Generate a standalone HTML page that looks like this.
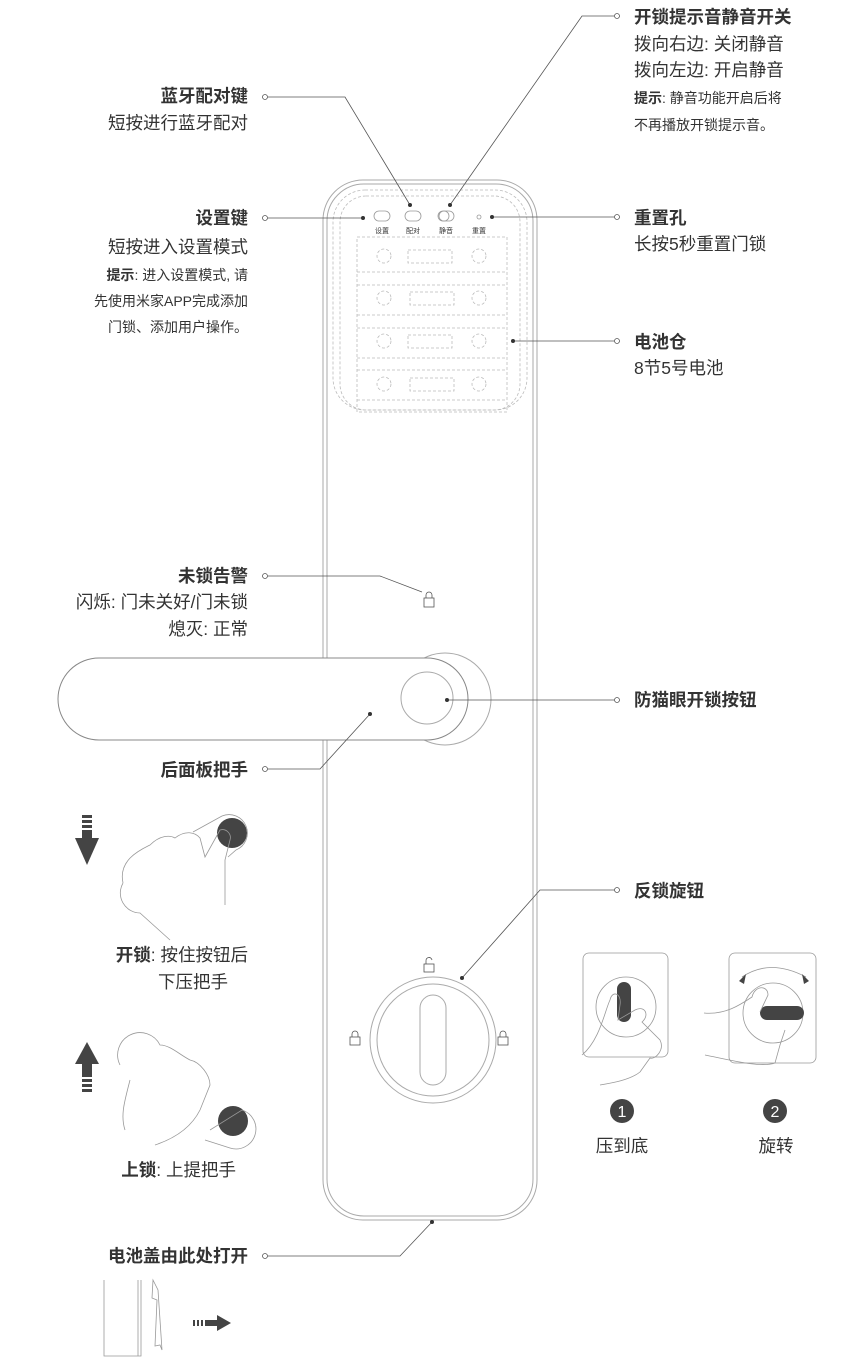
<!DOCTYPE html>
<html><head><meta charset="utf-8"><style>
html,body{margin:0;padding:0;background:#fff;}
svg{display:block;}
text{font-family:"Liberation Sans","Noto Sans CJK SC",sans-serif;fill:#333;}
.b{font-weight:bold;font-size:17.5px;}
.n{font-size:17.5px;}
.s{font-size:14px;}
.l{fill:none;stroke:#555;stroke-width:0.8;}
.g{fill:none;stroke:#aaa;stroke-width:1;}
.d{fill:none;stroke:#bbb;stroke-width:0.8;stroke-dasharray:3 2;}
.h{fill:none;stroke:#999;stroke-width:0.8;}
</style></head><body>
<svg width="863" height="1362" viewBox="0 0 863 1362">
<!-- lock body -->
<rect x="323" y="180" width="214" height="1040" rx="40" class="g"/>
<rect x="327" y="184" width="206" height="1032" rx="37" class="g"/>
<rect x="333" y="190" width="194" height="220" rx="32" class="d"/>
<rect x="340" y="196" width="180" height="214" rx="26" class="d"/>
<!-- buttons -->
<rect x="374" y="211" width="16" height="10" rx="5" class="h"/>
<rect x="405" y="211" width="16" height="10" rx="5" class="h"/>
<rect x="438" y="211" width="16" height="10" rx="5" class="h"/>
<circle cx="444" cy="216" r="5" class="h"/>
<circle cx="479" cy="217" r="2" class="h"/>
<text x="382" y="233" font-size="7" text-anchor="middle">设置</text>
<text x="413" y="233" font-size="7" text-anchor="middle">配对</text>
<text x="446" y="233" font-size="7" text-anchor="middle">静音</text>
<text x="479" y="233" font-size="7" text-anchor="middle">重置</text>
<!-- battery compartment -->
<rect x="357" y="237" width="150" height="175" class="d"/>
<line x1="357" y1="272" x2="507" y2="272" class="d"/>
<line x1="357" y1="285" x2="507" y2="285" class="d"/>
<line x1="357" y1="315" x2="507" y2="315" class="d"/>
<line x1="357" y1="328" x2="507" y2="328" class="d"/>
<line x1="357" y1="358" x2="507" y2="358" class="d"/>
<line x1="357" y1="370" x2="507" y2="370" class="d"/>
<line x1="357" y1="400" x2="507" y2="400" class="d"/>
<g class="d">
<circle cx="384" cy="256" r="7"/><rect x="408" y="250" width="44" height="13"/><circle cx="479" cy="256" r="7"/>
<circle cx="384" cy="298" r="7"/><rect x="410" y="292" width="44" height="13"/><circle cx="479" cy="298" r="7"/>
<circle cx="384" cy="341" r="7"/><rect x="408" y="335" width="44" height="13"/><circle cx="479" cy="341" r="7"/>
<circle cx="384" cy="384" r="7"/><rect x="410" y="378" width="44" height="13"/><circle cx="479" cy="384" r="7"/>
</g>
<!-- alarm lock icon -->
<g class="l" stroke-width="1.2"><rect x="424" y="598" width="10" height="9"/><path d="M426 598v-3a3 3 0 0 1 6 0v3"/></g>
<!-- handle -->
<circle cx="445" cy="699" r="46" class="g"/>
<rect x="58" y="658" width="410" height="82" rx="41" fill="#fff" stroke="#888" stroke-width="1"/>
<circle cx="427" cy="698" r="26" class="g"/>
<!-- knob -->
<circle cx="433" cy="1040" r="63" class="g"/>
<circle cx="433" cy="1040" r="56" class="g"/>
<rect x="420" y="995" width="26" height="90" rx="13" class="g"/>
<g class="l" stroke-width="1.2">
<rect x="424" y="964" width="10" height="8"/><path d="M426 964v-3a3 3 0 0 1 6 -1"/>
<rect x="350" y="1037" width="10" height="8"/><path d="M352 1037v-3a3 3 0 0 1 6 0v3"/>
<rect x="498" y="1037" width="10" height="8"/><path d="M500 1037v-3a3 3 0 0 1 6 0v3"/>
</g>
<!-- connectors -->
<g class="l">
<path d="M268 97H345L410 205"/><path d="M614 16H582L450 205"/>
<path d="M268 218H363"/><path d="M614 217H492"/><path d="M614 341H513"/>
<path d="M268 576H380L422 592"/><path d="M614 700H447"/>
<path d="M268 769H320L370 714"/><path d="M614 890H540L462 978"/>
<path d="M268 1256H400L432 1222"/>
</g>
<g fill="#fff" stroke="#555" stroke-width="0.8">
<circle cx="265" cy="97" r="2.5"/><circle cx="617" cy="16" r="2.5"/><circle cx="265" cy="218" r="2.5"/>
<circle cx="617" cy="217" r="2.5"/><circle cx="617" cy="341" r="2.5"/><circle cx="265" cy="576" r="2.5"/>
<circle cx="617" cy="700" r="2.5"/><circle cx="265" cy="769" r="2.5"/><circle cx="617" cy="890" r="2.5"/>
<circle cx="265" cy="1256" r="2.5"/>
</g>
<g fill="#333">
<circle cx="410" cy="205" r="2"/><circle cx="450" cy="205" r="2"/><circle cx="363" cy="218" r="2"/>
<circle cx="492" cy="217" r="2"/><circle cx="513" cy="341" r="2"/><circle cx="447" cy="700" r="2"/>
<circle cx="370" cy="714" r="2"/><circle cx="462" cy="978" r="2"/><circle cx="432" cy="1222" r="2"/>
</g>
<!-- labels left -->
<g text-anchor="end">
<text x="248" y="102" class="b">蓝牙配对键</text>
<text x="248" y="129" class="n">短按进行蓝牙配对</text>
<text x="248" y="224" class="b">设置键</text>
<text x="248" y="253" class="n">短按进入设置模式</text>
<text x="248" y="280" class="s"><tspan font-weight="bold">提示</tspan>: 进入设置模式, 请</text>
<text x="248" y="306" class="s">先使用米家APP完成添加</text>
<text x="248" y="332" class="s">门锁、添加用户操作。</text>
<text x="248" y="582" class="b">未锁告警</text>
<text x="248" y="608" class="n">闪烁: 门未关好/门未锁</text>
<text x="248" y="635" class="n">熄灭: 正常</text>
<text x="248" y="776" class="b">后面板把手</text>
<text x="248" y="1262" class="b">电池盖由此处打开</text>
</g>
<!-- labels right -->
<text x="634" y="23" class="b">开锁提示音静音开关</text>
<text x="634" y="50" class="n">拨向右边: 关闭静音</text>
<text x="634" y="76" class="n">拨向左边: 开启静音</text>
<text x="634" y="103" class="s"><tspan font-weight="bold">提示</tspan>: 静音功能开启后将</text>
<text x="634" y="130" class="s">不再播放开锁提示音。</text>
<text x="634" y="224" class="b">重置孔</text>
<text x="634" y="250" class="n">长按5秒重置门锁</text>
<text x="634" y="348" class="b">电池仓</text>
<text x="634" y="374" class="n">8节5号电池</text>
<text x="634" y="706" class="b">防猫眼开锁按钮</text>
<text x="634" y="897" class="b">反锁旋钮</text>
<!-- unlock illustration -->
<g fill="#444">
<rect x="82" y="815" width="10" height="3"/><rect x="82" y="820" width="10" height="3"/><rect x="82" y="825" width="10" height="3"/><rect x="82" y="830" width="10" height="8"/>
<path d="M75 838H99L87 865Z"/>
<circle cx="232" cy="833" r="15"/>
<rect x="82" y="1079" width="10" height="3"/><rect x="82" y="1084" width="10" height="3"/><rect x="82" y="1089" width="10" height="3"/><rect x="82" y="1062" width="10" height="15"/>
<path d="M75 1064H99L87 1042Z"/>
<circle cx="233" cy="1121" r="15"/>
</g>
<g class="h">
<path d="M193 832L222 816A18 18 0 0 1 236 850L228 857"/>
<path d="M123 883A20 20 0 0 0 140 913L170 940M123 883C118 860 140 850 150 845C160 835 170 835 175 838C185 830 195 832 200 838L205 857L220 830A8 8 0 0 1 230 840L225 860V905"/>
<path d="M210 1130L242 1110A18 18 0 0 1 230 1148L205 1140"/>
<path d="M120 1065A22 22 0 0 1 160 1045C170 1045 180 1055 190 1060C200 1062 210 1075 210 1085L200 1110C190 1130 170 1140 155 1145M130 1080C125 1100 120 1115 125 1130"/>
</g>
<text x="248" y="961" class="n" text-anchor="end"><tspan font-weight="bold">开锁</tspan>: 按住按钮后</text>
<text x="228" y="988" class="n" text-anchor="end">下压把手</text>
<text x="236" y="1176" class="n" text-anchor="end"><tspan font-weight="bold">上锁</tspan>: 上提把手</text>
<!-- battery cover illustration -->
<g class="h"><path d="M104 1280V1356H141V1280"/><path d="M138 1280V1356"/><path d="M153 1280L158 1290L162 1350L160 1345L155 1346L157 1300L152 1298Z"/></g>
<g fill="#444"><rect x="193" y="1320" width="2" height="6"/><rect x="197" y="1320" width="2" height="6"/><rect x="201" y="1320" width="2" height="6"/><rect x="205" y="1320" width="12" height="6"/><path d="M217 1315L231 1323L217 1331Z"/></g>
<!-- knob illustrations -->
<rect x="583" y="953" width="85" height="104" rx="6" class="h"/>
<circle cx="626" cy="1007" r="30" class="h"/>
<rect x="617" y="982" width="14" height="40" rx="7" fill="#444"/>
<path d="M582 1055C600 1040 605 1010 610 1000C612 990 622 993 620 1005L618 1020L635 1010C645 1005 650 1015 642 1022L660 1040C665 1050 655 1060 650 1058L640 1072C630 1080 612 1083 600 1085" class="h"/>
<rect x="729" y="953" width="87" height="110" rx="6" class="h"/>
<circle cx="773" cy="1013" r="30" class="h"/>
<path d="M742 977Q770 958 806 977" class="h"/>
<path d="M739 981L746 974L744 984Z M809 981L802 974L804 984Z" fill="#444"/>
<rect x="760" y="1006" width="44" height="14" rx="7" fill="#444"/>
<path d="M704 1013C725 1015 740 1005 752 997C755 985 768 985 768 995L760 1012M705 1055C730 1060 760 1068 775 1063L780 1045L785 1030" class="h"/>
<circle cx="622" cy="1111" r="12" fill="#444"/>
<text x="622" y="1117" font-size="16" text-anchor="middle" style="fill:#fff">1</text>
<circle cx="775" cy="1111" r="12" fill="#444"/>
<text x="775" y="1117" font-size="16" text-anchor="middle" style="fill:#fff">2</text>
<text x="622" y="1152" class="n" text-anchor="middle">压到底</text>
<text x="776" y="1152" class="n" text-anchor="middle">旋转</text>
</svg>
</body></html>
